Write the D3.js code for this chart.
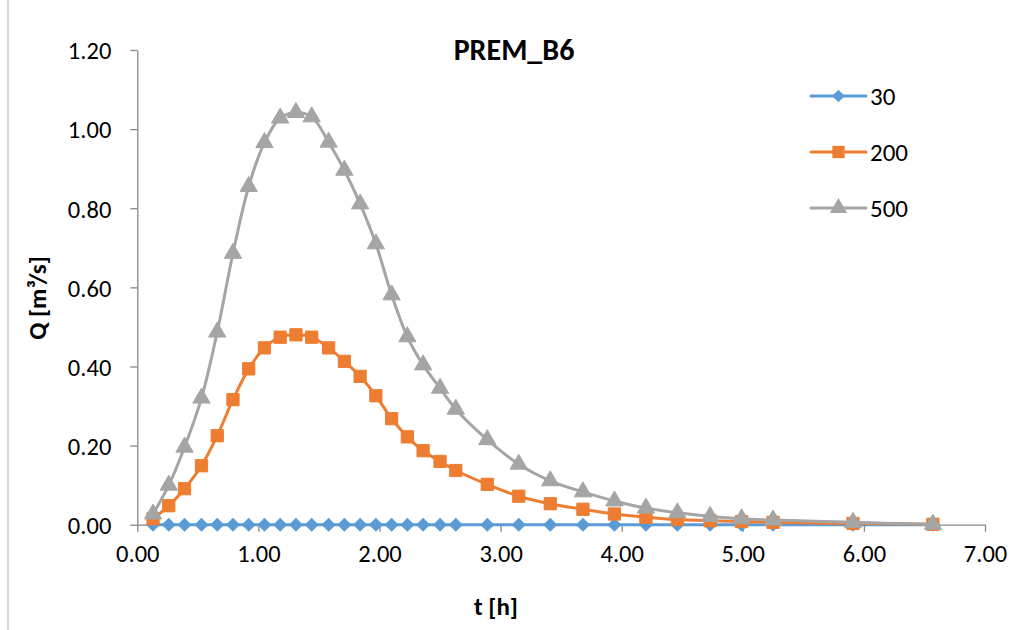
<!DOCTYPE html>
<html><head><meta charset="utf-8">
<script src="https://cdn.jsdelivr.net/npm/d3@7"></script>
<style>
html,body{margin:0;padding:0;background:#fff;}
svg text{font-family:Carlito,Lato,"Open Sans",sans-serif;fill:#000;}
</style></head>
<body>
<svg id="chart" width="1022" height="630"></svg>
<script>
// ---- data ----
const times = [0.13,0.26,0.39,0.53,0.66,0.79,0.92,1.05,1.18,1.31,1.44,1.58,1.71,1.84,1.97,2.10,2.23,2.36,2.50,2.63,
               2.89,3.15,3.41,3.68,3.94,4.20,4.46,4.73,4.99,5.25,5.91,6.57];
const q30  = [0.000,0.000,0.000,0.000,0.000,0.000,0.000,0.000,0.000,0.000,0.000,0.000,0.000,0.000,0.000,0.000,0.000,0.000,0.000,0.000,
              0.000,0.000,0.000,0.000,0.000,0.000,0.000,0.000,0.000,0.000,0.000,0.000];
const q200 = [0.015,0.048,0.091,0.149,0.225,0.316,0.394,0.447,0.474,0.480,0.474,0.447,0.413,0.375,0.326,0.268,0.222,0.187,0.160,0.137,
              0.102,0.072,0.053,0.039,0.027,0.019,0.013,0.010,0.008,0.006,0.003,0.001];
const q500 = [0.027,0.100,0.196,0.320,0.487,0.686,0.855,0.966,1.028,1.042,1.031,0.967,0.896,0.811,0.710,0.581,0.475,0.404,0.345,0.292,
              0.215,0.153,0.111,0.083,0.060,0.042,0.030,0.021,0.015,0.012,0.006,0.001];
const seriesNames = ["30","200","500"];
const xTicks = [0,1,2,3,4,5,6,7];
const yTicks = [0,0.2,0.4,0.6,0.8,1.0,1.2];
const titleText = "PREM_B6";
const xTitle = "t [h]";
const yTitle = "Q [m³/s]";

// ---- drawing ----
const svg = d3.select("#chart");
const colors = ["#5B9BD5","#ED7D31","#A5A5A5"];
const shapes = [d3.symbolSquare, d3.symbolSquare, d3.symbolTriangle];
const sizes = [80, 150, 130];
const rot = [45, 0, 0];

const x = d3.scaleLinear().domain([0,7]).range([137.3,985]);
const y = d3.scaleLinear().domain([0,1.2]).range([524.7,50]);

// outer chart border (left edge visible)
svg.append("line").attr("x1",8).attr("x2",8).attr("y1",0).attr("y2",630)
  .attr("stroke","#c8c8c8").attr("stroke-width",1.5);

const axisColor = "#868686";
const fmt = d3.format(".2f");

const gx = svg.append("g").attr("transform",`translate(0,${y(0)})`)
  .call(d3.axisBottom(x).tickValues(xTicks).tickFormat(fmt).tickSizeOuter(0).tickSizeInner(7).tickPadding(13));
const gy = svg.append("g").attr("transform",`translate(${x(0)},0)`)
  .call(d3.axisLeft(y).tickValues(yTicks).tickFormat(fmt).tickSizeOuter(0).tickSizeInner(7).tickPadding(19));
[gx,gy].forEach(g=>{
  g.select(".domain").attr("stroke",axisColor).attr("stroke-width",1.3);
  g.selectAll(".tick line").attr("stroke",axisColor).attr("stroke-width",1.3);
  g.selectAll(".tick text").attr("font-size",24.5).attr("font-family","Carlito,Lato,sans-serif").attr("fill","#000");
});
gy.selectAll(".tick text").attr("dy","0.36em");

const datasets = [q30,q200,q500];
const line = d3.line().x(d=>x(d[0])).y(d=>y(d[1])).curve(d3.curveCatmullRom.alpha(0.5));

datasets.forEach((vals,i)=>{
  const pts = times.map((t,j)=>[t,vals[j]]);
  const g = svg.append("g");
  g.append("path").datum(pts).attr("d",line).attr("fill","none")
    .attr("stroke",colors[i]).attr("stroke-width",3).attr("stroke-linejoin","round");
  g.selectAll("path.m").data(pts).enter().append("path").attr("class","m")
    .attr("d",d3.symbol().type(shapes[i]).size(sizes[i]))
    .attr("transform",d=>`translate(${x(d[0])},${y(d[1])}) rotate(${rot[i]})`)
    .attr("fill",colors[i]).attr("stroke",colors[i]).attr("stroke-width",1);
});

// legend
const legY = [96,152,208];
seriesNames.forEach((name,i)=>{
  const g = svg.append("g");
  g.append("line").attr("x1",811).attr("x2",866).attr("y1",legY[i]).attr("y2",legY[i])
    .attr("stroke",colors[i]).attr("stroke-width",3).attr("stroke-linecap","round");
  g.append("path").attr("d",d3.symbol().type(shapes[i]).size(sizes[i]))
    .attr("transform",`translate(838.5,${legY[i]}) rotate(${rot[i]})`).attr("fill",colors[i]);
  g.append("text").attr("x",870).attr("y",legY[i]+9).attr("font-size",25).text(name);
});

// titles
svg.append("text").attr("x",514).attr("y",60).attr("text-anchor","middle")
  .attr("font-size",30).attr("font-weight","bold").text(titleText);
svg.append("text").attr("x",496).attr("y",615).attr("text-anchor","middle")
  .attr("font-size",25).attr("font-weight","bold").text(xTitle);
svg.append("text").attr("transform","translate(46,298) rotate(-90)").attr("text-anchor","middle")
  .attr("font-size",25).attr("font-weight","bold").text(yTitle);
</script>
</body></html>
